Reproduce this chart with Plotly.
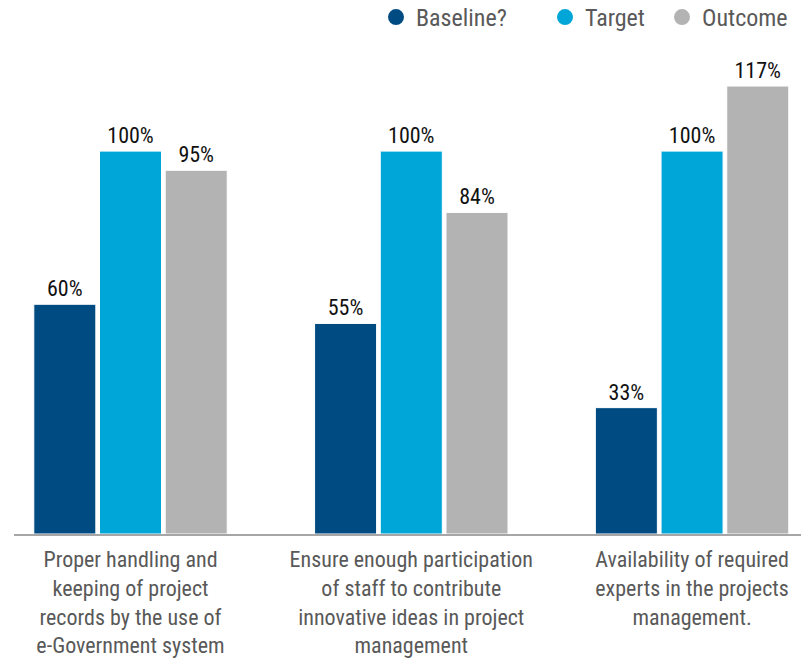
import plotly.graph_objects as go

categories = [
    "Proper handling and<br>keeping of project<br>records by the use of<br>e-Government system",
    "Ensure enough participation<br>of staff to contribute<br>innovative ideas in project<br>management",
    "Availability of required<br>experts in the projects<br>management.",
]
series_names = ["Baseline?", "Target", "Outcome"]
baseline = [60, 55, 33]
target = [100, 100, 100]
outcome = [95, 84, 117]
colors = ["#004b82", "#00a6d8", "#b3b3b3"]

FONT = "Liberation Sans Narrow, Roboto Condensed, Arial Narrow, Roboto, sans-serif"

# plot area geometry (pixels)
W, H = 801, 659
ML, MR, MT, MB = 14, 0, 60, 125
PW, PH = W - ML - MR, H - MT - MB

legend_ids = ["legend", "legend2", "legend3"]
legend_left_px = [376, 545, 662]

fig = go.Figure()
x_idx = list(range(len(categories)))
for name, vals, col, lg in zip(series_names, [baseline, target, outcome], colors, legend_ids):
    fig.add_trace(go.Bar(
        x=x_idx, y=vals, name=name,
        marker=dict(color=col, line=dict(color="white", width=1)),
        text=[f"{v}%" for v in vals], textposition="outside",
        textfont=dict(family=FONT, size=22, color="#111111"),
        cliponaxis=False, showlegend=False,
    ))
    # circle swatch for the legend
    fig.add_trace(go.Scatter(
        x=[None], y=[None], mode="markers", name=name, legend=lg,
        marker=dict(symbol="circle", size=18, color=col),
    ))

legend_style = dict(
    orientation="h", xanchor="left", yanchor="top",
    y=1 + 65 / PH, bgcolor="rgba(0,0,0,0)",
    font=dict(family=FONT, size=24, color="#595959"),
)
legends = {}
for lg, lx in zip(legend_ids, legend_left_px):
    legends[lg] = dict(legend_style, x=(lx - ML) / PW)

fig.update_layout(
    width=W, height=H,
    margin=dict(l=ML, r=MR, t=MT, b=MB, autoexpand=False),
    paper_bgcolor="white", plot_bgcolor="white",
    barmode="group", bargap=0.298, bargroupgap=0.056,
    font=dict(family=FONT, color="#595959", size=22),
    xaxis=dict(
        tickmode="array", tickvals=x_idx, ticktext=categories,
        range=[-0.415, 2.388], showgrid=False, zeroline=False,
        showline=True, linecolor="#a6a6a6", linewidth=2,
        ticks="", ticklabelstandoff=5,
        tickfont=dict(family=FONT, size=22, color="#595959"),
    ),
    yaxis=dict(range=[0, 123.8], visible=False, showgrid=False, zeroline=False),
    **legends,
)

fig.write_html("out.html")
